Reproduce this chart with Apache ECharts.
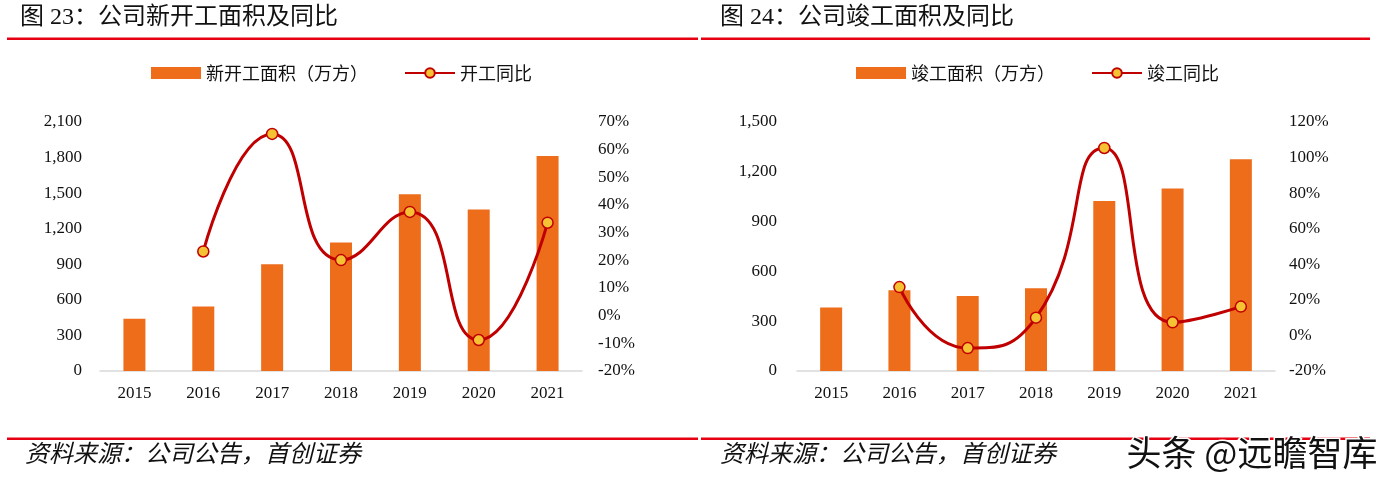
<!DOCTYPE html>
<html>
<head>
<meta charset="utf-8">
<script src="https://cdn.jsdelivr.net/npm/echarts@6/dist/echarts.min.js"></script>
<style>
html,body{margin:0;padding:0;background:#fff;}
#c{width:1396px;height:487px;}
</style>
</head>
<body>
<div id="c"></div>
<script>
// ---- data ----
const years = ['2015', '2016', '2017', '2018', '2019', '2020', '2021'];
const newStartArea = [440, 545, 900, 1083, 1490, 1361, 1813];
const newStartYoY = [null, 23.2, 65.7, 20.1, 37.5, -8.8, 33.6];
const completedArea = [382, 486, 452, 498, 1024, 1099, 1275];
const completedYoY = [null, 27.2, -7.1, 10.0, 105.4, 7.4, 16.2];
const leftAreaTicks = {min: 0, max: 2100, interval: 300};
const leftPctTicks = {min: -20, max: 70, interval: 10};
const rightAreaTicks = {min: 0, max: 1500, interval: 300};
const rightPctTicks = {min: -20, max: 120, interval: 20};

const names = {
  barL: '新开工面积（万方）', lineL: '开工同比',
  barR: '竣工面积（万方）', lineR: '竣工同比'
};

const SERIF = '"Liberation Serif", "Noto Sans CJK SC", serif';
const CJK = '"Noto Sans CJK SC", sans-serif';
const BAR = '#EE6D1B';
const LINE = '#C00000';
const DOT = '#F4C232';
const RULE = '#E60012';

const fmtNum = v => Number(v).toLocaleString('en-US');
const fmtPct = v => v + '%';

function xAxis(gi) {
  return {
    type: 'category', gridIndex: gi, data: years,
    axisLine: {lineStyle: {color: '#D9D9D9', width: 1.5}},
    axisTick: {show: false},
    axisLabel: {color: '#111', fontFamily: SERIF, fontSize: 17, margin: 14}
  };
}
function yAxis(gi, t, pos, fmt, margin) {
  return Object.assign({
    type: 'value', gridIndex: gi, position: pos,
    splitLine: {show: false}, axisLine: {show: false}, axisTick: {show: false},
    axisLabel: {color: '#111', fontFamily: SERIF, fontSize: 17, formatter: fmt, margin: margin}
  }, t);
}
function lineSeries(name, data, xi, yi) {
  return {
    name: name, type: 'line', xAxisIndex: xi, yAxisIndex: yi, data: data,
    smooth: 0.55, symbol: 'circle', symbolSize: 11, z: 5,
    lineStyle: {color: LINE, width: 3},
    itemStyle: {color: DOT, borderColor: LINE, borderWidth: 1.5}
  };
}
function barSeries(name, data, xi, yi) {
  return {
    name: name, type: 'bar', xAxisIndex: xi, yAxisIndex: yi, data: data,
    barWidth: 22, itemStyle: {color: BAR}
  };
}
function legend(left, barName, lineName) {
  return {
    left: left, top: 64, padding: 0, itemWidth: 50, itemHeight: 12, itemGap: 36,
    data: [{name: barName, icon: 'rect'}, {name: lineName}],
    textStyle: {fontFamily: CJK, fontSize: 18, color: '#111'},
    selectedMode: false
  };
}

const chart = echarts.init(document.getElementById('c'));
chart.setOption({
  animation: false,
  backgroundColor: '#fff',
  grid: [
    {left: 100, right: 1396 - 582, top: 122, bottom: 487 - 371},
    {left: 797, right: 1396 - 1275, top: 122, bottom: 487 - 371}
  ],
  legend: [legend(151, names.barL, names.lineL), legend(856, names.barR, names.lineR)],
  xAxis: [xAxis(0), xAxis(1)],
  yAxis: [
    yAxis(0, leftAreaTicks, 'left', fmtNum, 18),
    yAxis(0, leftPctTicks, 'right', fmtPct, 16),
    yAxis(1, rightAreaTicks, 'left', fmtNum, 20),
    yAxis(1, rightPctTicks, 'right', fmtPct, 14)
  ],
  series: [
    barSeries(names.barL, newStartArea, 0, 0),
    lineSeries(names.lineL, newStartYoY, 0, 1),
    barSeries(names.barR, completedArea, 1, 2),
    lineSeries(names.lineR, completedYoY, 1, 3)
  ],
  graphic: [
    {type: 'text', left: 20, top: 6, style: {text: '图 23：公司新开工面积及同比', font: '24px ' + SERIF, fill: '#111'}},
    {type: 'text', left: 720, top: 6, style: {text: '图 24：公司竣工面积及同比', font: '24px ' + SERIF, fill: '#111'}},
    {type: 'rect', shape: {x: 7, y: 37.5, width: 691, height: 2.5}, style: {fill: RULE}},
    {type: 'rect', shape: {x: 701, y: 37.5, width: 669, height: 2.5}, style: {fill: RULE}},
    {type: 'rect', shape: {x: 7, y: 437.5, width: 691, height: 2.5}, style: {fill: RULE}},
    {type: 'rect', shape: {x: 701, y: 437.5, width: 669, height: 2.5}, style: {fill: RULE}},
    {type: 'text', left: 25, top: 444, style: {text: '资料来源：公司公告，首创证券', font: 'italic 24px ' + SERIF, fill: '#111'}},
    {type: 'text', left: 720, top: 444, style: {text: '资料来源：公司公告，首创证券', font: 'italic 24px ' + SERIF, fill: '#111'}},
    {type: 'text', left: 1125, top: 434, z: 100, style: {
      text: '头条 @远瞻智库', font: '35px ' + CJK, fill: '#111',
      stroke: '#fff', lineWidth: 3, shadowColor: 'rgba(0,0,0,0.35)', shadowOffsetX: 1, shadowOffsetY: 1, shadowBlur: 1
    }}
  ]
});
</script>
</body>
</html>
